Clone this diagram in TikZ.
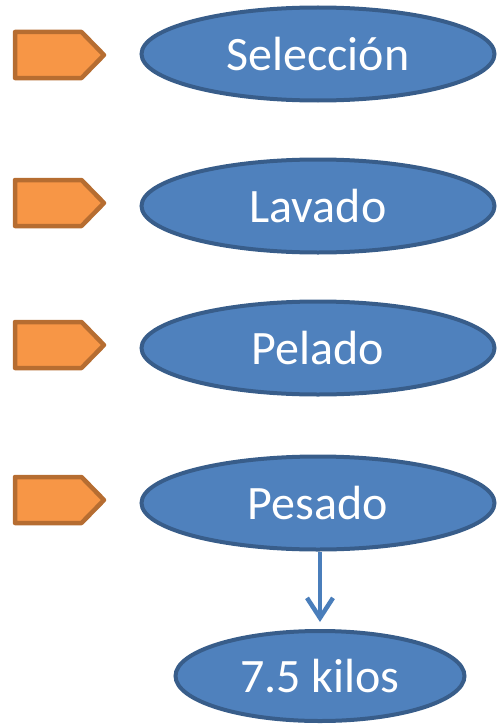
\documentclass[tikz,border=0pt]{standalone}
\usepackage{fontspec}
\setmainfont{Carlito}
\usetikzlibrary{shapes.geometric,arrows.meta}
\definecolor{efill}{HTML}{4F81BD}
\definecolor{edraw}{HTML}{385D8A}
\definecolor{pfill}{HTML}{F79646}
\definecolor{pdraw}{HTML}{B66D31}
\definecolor{arrowc}{HTML}{4A7EBB}
\tikzset{
  stage/.style={ellipse, fill=efill, draw=edraw, line width=4pt, inner sep=0pt,
    minimum width=353pt, minimum height=93pt, text=white, font=\fontsize{48}{56}\selectfont},
  tagshape/.style={fill=pfill, draw=pdraw, line width=4.5pt, line join=round},
  anchorpt/.style={inner sep=0pt, minimum size=0pt},
  flow/.style={draw=arrowc, line width=4.5pt, -{Straight Barb[length=20pt,width=26pt,line width=4.5pt]}}
}
\newcommand{\tagat}[2]{%
  \node[anchorpt] (#1) at (59.5,#2) {};
  \draw[tagshape] ([shift={(-44.5,-23)}]#1.center) -- ([shift={(22,-23)}]#1.center)
    -- ([shift={(44.5,0)}]#1.center) -- ([shift={(22,23)}]#1.center)
    -- ([shift={(-44.5,23)}]#1.center) -- cycle;}
\begin{document}
\begin{tikzpicture}[x=1pt,y=-1pt]
\useasboundingbox (0,0) rectangle (496,725);
\tagat{p1}{55}
\tagat{p2}{203}
\tagat{p3}{345}
\tagat{p4}{500}
\node[stage] (e1) at (318,54) {Selección};
\node[stage] (e2) at (318,206) {Lavado};
\node[stage] (e3) at (318,348) {Pelado};
\node[stage] (e4) at (318,503) {Pesado};
\node[stage, minimum width=289pt, minimum height=90pt] (e5) at (320,676) {7.5 kilos};
\draw[flow, shorten >=7pt] (e4.south -| e5.north) -- (e5.north);
\end{tikzpicture}
\end{document}
